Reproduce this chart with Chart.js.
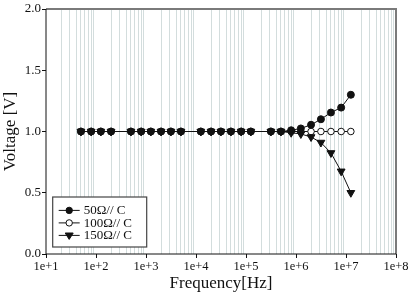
<!DOCTYPE html>
<html>
<head>
<meta charset="utf-8">
<script src="https://cdn.jsdelivr.net/npm/chart.js@4/dist/chart.umd.min.js"></script>
<style>
html,body{margin:0;padding:0;background:#fff;}
#wrap{width:412px;height:294px;position:relative;}
</style>
</head>
<body>
<div id="wrap"><canvas id="c" width="412" height="294"></canvas></div>
<script>
const frequencies = [50, 80, 125, 200, 500, 800, 1250, 2000, 3150, 5000, 12500, 20000, 31500, 50000, 80000, 125000, 315000, 500000, 800000, 1250000, 2000000, 3150000, 5000000, 8000000, 12500000];
const volt50 = [1.0, 1.0, 1.0, 1.0, 1.0, 1.0, 1.0, 1.0, 1.0, 1.0, 1.0, 1.0, 1.0, 1.0, 1.0, 1.0, 1.0, 1.0, 1.01, 1.025, 1.055, 1.10, 1.155, 1.195, 1.30];
const volt100 = [1.0, 1.0, 1.0, 1.0, 1.0, 1.0, 1.0, 1.0, 1.0, 1.0, 1.0, 1.0, 1.0, 1.0, 1.0, 1.0, 1.0, 1.0, 1.0, 1.0, 1.0, 1.0, 1.0, 1.0, 1.0];
const volt150 = [1.0, 1.0, 1.0, 1.0, 1.0, 1.0, 1.0, 1.0, 1.0, 1.0, 1.0, 1.0, 1.0, 1.0, 1.0, 1.0, 1.0, 1.0, 0.99, 0.98, 0.955, 0.91, 0.825, 0.675, 0.50];
const seriesLabels = ['50\u03A9// C', '100\u03A9// C', '150\u03A9// C'];
const xDecades = [1, 2, 3, 4, 5, 6, 7, 8];
const yTicks = [0, 0.5, 1.0, 1.5, 2.0];

const FONT = "'Liberation Serif', 'Times New Roman', serif";

function pts(vals){ return frequencies.map((f,i)=>({x:f, y:vals[i]})); }

const frame = {
  id:'frame',
  afterDatasetsDraw(chart){
    const {ctx, chartArea:a} = chart;
    ctx.save();
    ctx.strokeStyle = '#7a7a7a'; ctx.lineWidth = 2;
    ctx.beginPath();
    ctx.moveTo(a.left, a.top); ctx.lineTo(a.right, a.top); ctx.lineTo(a.right, a.bottom);
    ctx.stroke();
    ctx.strokeStyle = '#111'; ctx.lineWidth = 1;
    ctx.beginPath();
    ctx.moveTo(a.left, a.top); ctx.lineTo(a.left, a.bottom); ctx.lineTo(a.right, a.bottom);
    ctx.stroke();
    // legend
    const bx = a.left + 6.7, by = a.bottom - 57, bw = 94, bh = 50;
    ctx.fillStyle = '#fff';
    ctx.fillRect(bx, by, bw, bh);
    ctx.strokeStyle = '#444'; ctx.lineWidth = 1.2;
    ctx.strokeRect(bx, by, bw, bh);
    chart.data.datasets.forEach((ds, i) => {
      const y = by + 13.4 + i * 12.5;
      ctx.strokeStyle = '#111'; ctx.lineWidth = 1;
      ctx.beginPath(); ctx.moveTo(bx + 6, y); ctx.lineTo(bx + 27, y); ctx.stroke();
      const mx = bx + 16.5;
      ctx.fillStyle = ds.pointBackgroundColor;
      ctx.strokeStyle = '#111';
      if (ds.pointStyle === 'triangle') {
        const r = 4;
        ctx.beginPath();
        ctx.moveTo(mx - r, y - r*0.6); ctx.lineTo(mx + r, y - r*0.6); ctx.lineTo(mx, y + r); ctx.closePath();
        ctx.fill(); ctx.stroke();
      } else {
        ctx.beginPath(); ctx.arc(mx, y, 3.2, 0, Math.PI*2); ctx.fill(); ctx.stroke();
      }
      ctx.fillStyle = '#111';
      ctx.font = '13px ' + FONT;
      ctx.textBaseline = 'middle';
      ctx.textAlign = 'left';
      ctx.fillText(ds.label, bx + 31, y + 0.5);
    });
    ctx.restore();
  }
};

new Chart(document.getElementById('c'), {
  type: 'line',
  data: {
    datasets: [
      {label: seriesLabels[0], data: pts(volt50), borderColor:'#111', borderWidth:1, pointStyle:'circle', pointRadius:3.5, pointBackgroundColor:'#111', pointBorderColor:'#111', pointBorderWidth:1, order:1},
      {label: seriesLabels[1], data: pts(volt100), borderColor:'#111', borderWidth:1, pointStyle:'circle', pointRadius:3.3, pointBackgroundColor:'#fff', pointBorderColor:'#111', pointBorderWidth:1, order:3},
      {label: seriesLabels[2], data: pts(volt150), borderColor:'#111', borderWidth:1, pointStyle:'triangle', pointRadius:4.5, pointRotation:180, pointBackgroundColor:'#111', pointBorderColor:'#111', pointBorderWidth:1, order:2}
    ]
  },
  options: {
    responsive:false,
    animation:false,
    devicePixelRatio:1,
    layout:{padding:{top:9, right:16, left:0, bottom:0}},
    plugins:{legend:{display:false}, tooltip:{enabled:false}},
    scales:{
      x:{
        type:'logarithmic', min:10, max:1e8,
        afterBuildTicks(scale){
          const t = [];
          xDecades.forEach(d => {
            const base = Math.pow(10, d);
            if (d === 8) { t.push({value: base, major:true}); return; }
            for (let m = 1; m <= 9; m++) t.push({value: m*base, major: m === 1});
          });
          scale.ticks = t;
        },
        afterFit(scale){ scale.height = 40; },
        border:{display:false},
        grid:{
          drawOnChartArea:true,
          color: ctx => (ctx.tick && ctx.tick.major) ? 'rgba(0,0,0,0)' : '#d3dddd',
          tickColor: ctx => (ctx.tick && ctx.tick.major) ? '#111' : 'rgba(0,0,0,0)',
          tickLength:4, lineWidth:1
        },
        ticks:{
          autoSkip:false, maxRotation:0, padding:1, color:'#111',
          font:{family:FONT, size:12.5},
          callback(v){ const e = Math.log10(v); return Math.abs(e - Math.round(e)) < 1e-9 ? '1e+' + Math.round(e) : ''; }
        },
        title:{display:true, text:'Frequency[Hz]', color:'#111', font:{family:FONT, size:17}, padding:{top:0, bottom:0}}
      },
      y:{
        type:'linear', min:0, max:2,
        afterBuildTicks(scale){ scale.ticks = yTicks.map(v => ({value:v})); },
        afterFit(scale){ scale.width = 46; },
        border:{display:false},
        grid:{drawOnChartArea:false, tickLength:4, tickColor:'#111'},
        ticks:{padding:1, color:'#111', font:{family:FONT, size:13}, callback:v => v.toFixed(1)},
        title:{display:true, text:'Voltage [V]', color:'#111', font:{family:FONT, size:17}, padding:{top:0, bottom:0}}
      }
    }
  },
  plugins:[frame]
});
</script>
</body>
</html>
